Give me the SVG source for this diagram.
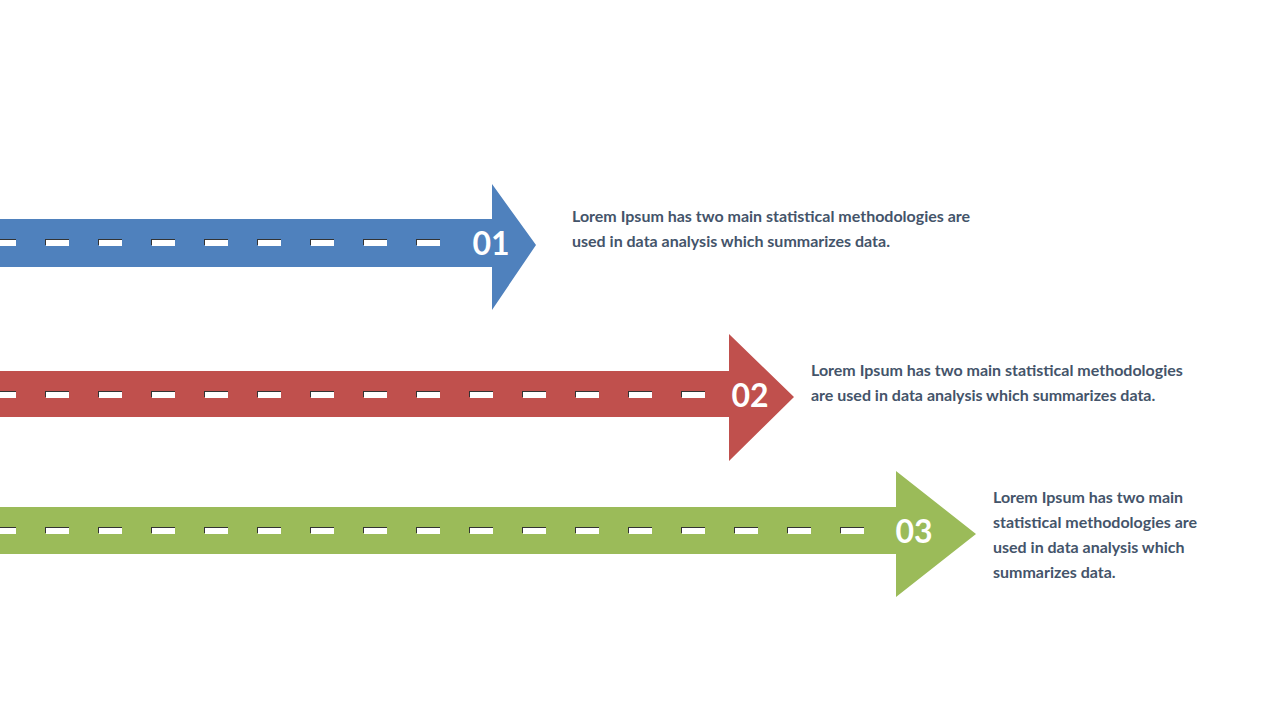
<svg xmlns="http://www.w3.org/2000/svg" width="1280" height="720" viewBox="0 0 1280 720">
<style>
.t{font-family:Lato,"Open Sans","Liberation Sans",sans-serif;font-weight:bold;font-size:16px;fill:#44546A}
.n{font-family:Lato,"Open Sans","Liberation Sans",sans-serif;font-weight:bold;font-size:32px;fill:#fff}
</style>
<defs>
<g id="d"><rect x="-1" y="-1" width="24" height="6" fill="#333"/><rect x="0" y="0" width="23" height="6" fill="#fff"/></g>
</defs>
<rect width="1280" height="720" fill="#fff"/>
<g id="n1">
<polygon points="0,219 492,219 492,184 536,245 492,310 492,267 0,267" fill="#4F81BD"/>
<g transform="translate(0,240)">
<use href="#d" x="-7"/><use href="#d" x="46"/><use href="#d" x="99"/><use href="#d" x="152"/><use href="#d" x="205"/><use href="#d" x="258"/><use href="#d" x="311"/><use href="#d" x="364"/><use href="#d" x="417"/>
</g>
<text class="n" x="491" y="255" text-anchor="middle">01</text>
<text class="t" x="572" y="222">Lorem Ipsum has two main statistical methodologies are</text>
<text class="t" x="572" y="247">used in data analysis which summarizes data.</text>
</g>
<g id="n2">
<polygon points="0,371 729,371 729,334 794,397 729,461 729,417 0,417" fill="#C0504D"/>
<g transform="translate(0,392)">
<use href="#d" x="-7"/><use href="#d" x="46"/><use href="#d" x="99"/><use href="#d" x="152"/><use href="#d" x="205"/><use href="#d" x="258"/><use href="#d" x="311"/><use href="#d" x="364"/><use href="#d" x="417"/><use href="#d" x="470"/><use href="#d" x="523"/><use href="#d" x="576"/><use href="#d" x="629"/><use href="#d" x="682"/>
</g>
<text class="n" x="750" y="407" text-anchor="middle">02</text>
<text class="t" x="811" y="376">Lorem Ipsum has two main statistical methodologies</text>
<text class="t" x="811" y="401">are used in data analysis which summarizes data.</text>
</g>
<g id="n3">
<polygon points="0,507 896,507 896,471 976,534 896,597 896,554 0,554" fill="#9BBB59"/>
<g transform="translate(0,528)">
<use href="#d" x="-7"/><use href="#d" x="46"/><use href="#d" x="99"/><use href="#d" x="152"/><use href="#d" x="205"/><use href="#d" x="258"/><use href="#d" x="311"/><use href="#d" x="364"/><use href="#d" x="417"/><use href="#d" x="470"/><use href="#d" x="523"/><use href="#d" x="576"/><use href="#d" x="629"/><use href="#d" x="682"/><use href="#d" x="735"/><use href="#d" x="788"/><use href="#d" x="841"/>
</g>
<text class="n" x="914" y="543" text-anchor="middle">03</text>
<text class="t" x="993" y="503">Lorem Ipsum has two main</text>
<text class="t" x="993" y="528">statistical methodologies are</text>
<text class="t" x="993" y="553">used in data analysis which</text>
<text class="t" x="993" y="578">summarizes data.</text>
</g>
</svg>
